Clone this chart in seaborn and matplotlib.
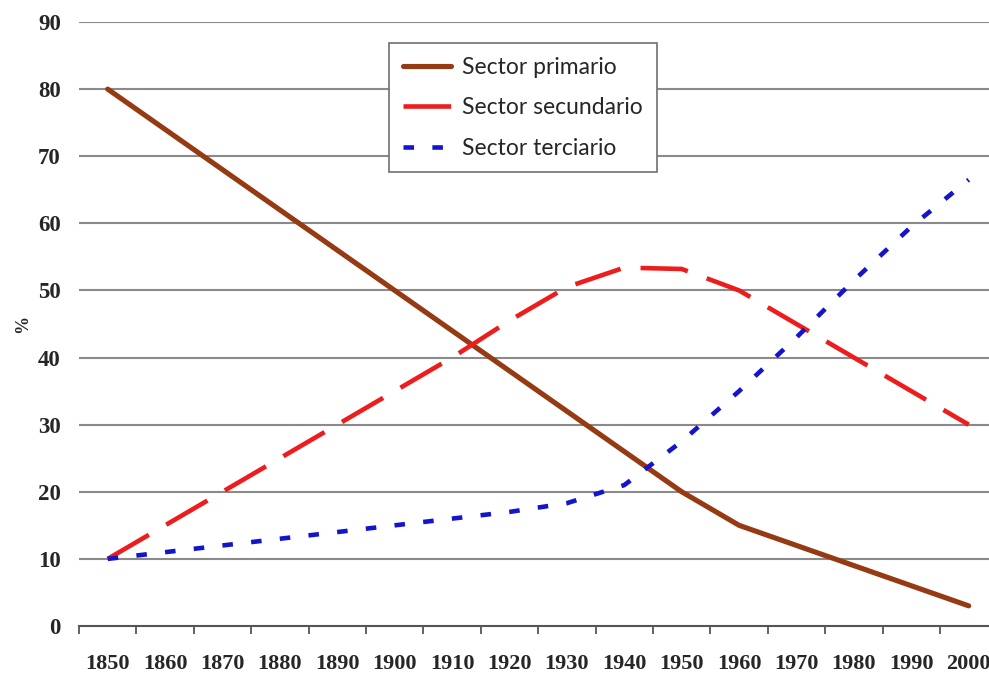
import matplotlib
matplotlib.use("Agg")
import matplotlib.pyplot as plt
from matplotlib.lines import Line2D
import seaborn as sns
import pandas as pd

# Employment share by sector (%), 1850-2000
years = [1850, 1860, 1870, 1880, 1890, 1900, 1910, 1920,
         1930, 1940, 1950, 1960, 1970, 1980, 1990, 2000]
primario = [80, 74, 68, 62, 56, 50, 44, 38, 32, 26, 20, 15, 12, 9, 6, 3]
secundario = [10, 15, 20, 25, 30, 35, 40, 45.5, 50.5, 53.4, 53.2, 50, 45, 40, 35, 30]
terciario = [10, 11, 12, 13, 14, 15, 16, 17, 18.3, 21, 27.5, 35, 43, 51.5, 59.5, 66.5]

series_names = ["Sector primario", "Sector secundario", "Sector terciario"]
y_ticks = [0, 10, 20, 30, 40, 50, 60, 70, 80, 90]

df = pd.DataFrame({
    "year": years * 3,
    "value": primario + secundario + terciario,
    "sector": sum([[n] * len(years) for n in series_names], []),
})

sns.set_style("white")
plt.rcParams["font.family"] = ["Liberation Serif", "DejaVu Serif"]

fig = plt.figure(figsize=(9.89, 6.82), dpi=100)
ax = fig.add_axes([79 / 989, 56 / 682, 1 - 79 / 989, (626 - 22) / 682])

palette = {
    "Sector primario": "#953A12",
    "Sector secundario": "#EE1C1C",
    "Sector terciario": "#1414CC",
}
dashes = {
    "Sector primario": "",
    "Sector secundario": (10.4, 4.4),
    "Sector terciario": (2.3, 4.0),
}

sns.lineplot(data=df, x="year", y="value", hue="sector", style="sector",
             palette=palette, dashes=dashes, ax=ax, legend=False,
             linewidth=3.3)
# thicker solid line for the primary sector
ax.lines[0].set_linewidth(3.7)
for ln in ax.lines:
    ln.set_solid_capstyle("round")
    ln.set_dash_capstyle("butt")

ax.set_xlim(1845, 1845 + (989 - 79) / 5.74)
ax.set_ylim(0, 90)

# horizontal gridlines
for v in y_ticks[1:]:
    ax.axhline(v, color="#8a8a8a", linewidth=1.5, zorder=0.5)

ax.set_yticks(y_ticks)
ax.set_yticklabels([str(v) for v in y_ticks], fontsize=16.5, fontweight="bold")
ax.tick_params(axis="y", length=0, pad=13)

ax.set_xticks(years)
ax.set_xticklabels([str(y) for y in years], fontsize=16, fontweight="bold")
ax.set_xticks([y - 5 for y in years], minor=True)
ax.tick_params(axis="x", which="major", length=0, pad=20)
ax.tick_params(axis="x", which="minor", length=6, width=1.3,
               color="#555555", direction="out", bottom=True)

for side in ["left", "right", "top"]:
    ax.spines[side].set_visible(False)
ax.spines["bottom"].set_color("#555555")
ax.spines["bottom"].set_linewidth(1.5)

ax.set_xlabel("")
ax.set_ylabel("%", fontsize=13, fontweight="bold", labelpad=5)

handles = [
    Line2D([], [], color=palette["Sector primario"], linewidth=3.7),
    Line2D([], [], color=palette["Sector secundario"], linewidth=3.3,
           dashes=(10.4, 4.4)),
    Line2D([], [], color=palette["Sector terciario"], linewidth=3.3,
           dashes=(2.3, 4.0)),
]
leg = fig.legend(handles, series_names, loc="upper left",
                 bbox_to_anchor=(389 / 989, 1 - 43 / 682),
                 prop={"family": "Lato", "size": 16.5},
                 frameon=True, fancybox=False, framealpha=1,
                 edgecolor="#707070", handlelength=2.1, handletextpad=0.5,
                 labelspacing=0.85, borderpad=0.6, borderaxespad=0)
leg.get_frame().set_linewidth(1.2)

fig.savefig("out.png", dpi=100)
